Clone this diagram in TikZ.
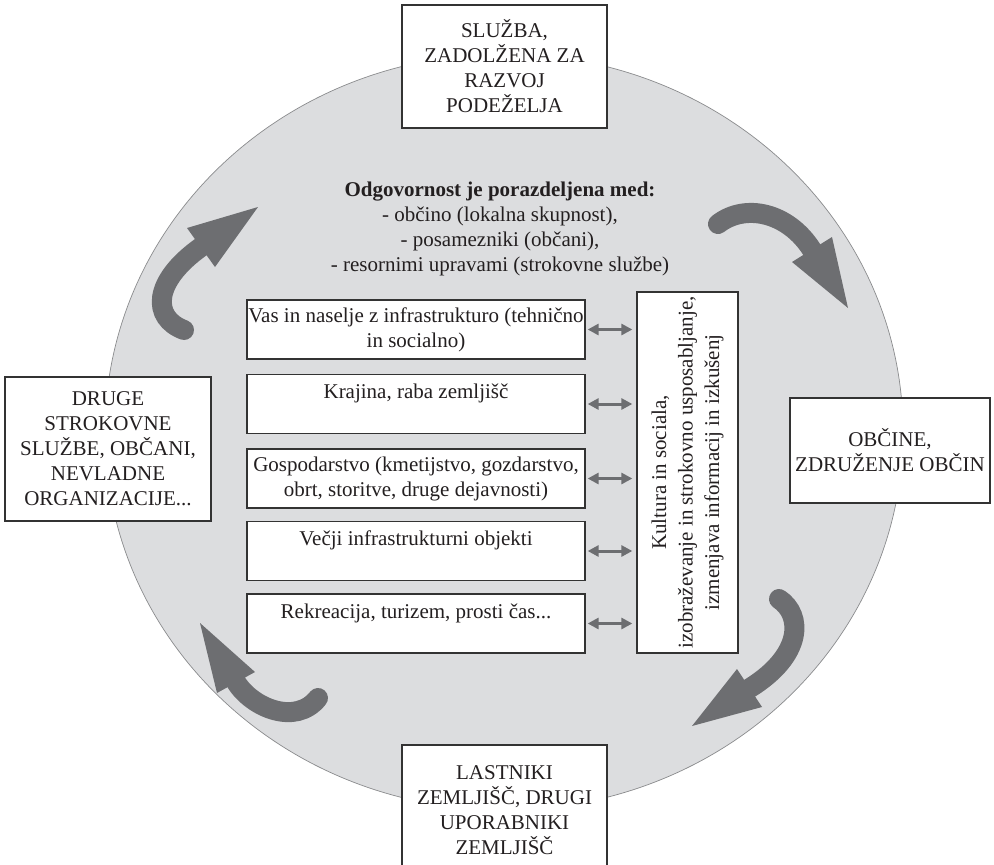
\documentclass[tikz,border=0pt]{standalone}
\usepackage{fontspec}
\setmainfont{Liberation Serif}
\usetikzlibrary{arrows.meta}
\definecolor{circfill}{HTML}{DCDDDF}
\definecolor{circline}{HTML}{8A8B8D}
\definecolor{arrowgray}{HTML}{6D6E71}
\definecolor{boxline}{HTML}{333333}
\definecolor{txt}{HTML}{231F20}
\begin{document}
\begin{tikzpicture}[x=1pt,y=-1pt,
  font=\fontsize{21}{25}\selectfont, text=txt,
  outerbox/.style={draw=boxline, line width=1.3pt, fill=white, align=center, inner sep=2pt},
  innerbox/.style={draw=boxline, line width=1.3pt, fill=white, align=center,
    minimum width=338pt, minimum height=59pt, inner sep=1pt},
  dblarrow/.style={{Triangle[length=11pt,width=11pt]}-{Triangle[length=11pt,width=11pt]},
    draw=arrowgray, line width=3pt, shorten <=2pt, shorten >=4pt},
  shaft/.style={draw=arrowgray, line width=20pt, line cap=round},
  head/.style={fill=arrowgray}]
\useasboundingbox (0,0) rectangle (994,865);
\fill[white] (0,0) rectangle (994,865);
% big disc
\draw[fill=circfill, draw=circline, line width=0.7pt] (504,432) ellipse [x radius=399pt, y radius=378pt];

% outer boxes
\node[outerbox, minimum width=205pt, minimum height=123pt] (top) at (504.5,66.5)
  {SLUŽBA,\\ZADOLŽENA ZA\\RAZVOJ\\PODEŽELJA};
\node[outerbox, minimum width=206pt, minimum height=144pt] (left) at (108,449)
  {DRUGE\\STROKOVNE\\SLUŽBE, OBČANI,\\NEVLADNE\\ORGANIZACIJE...};
\node[outerbox, minimum width=200pt, minimum height=105pt] (right) at (890,450.5)
  {OBČINE,\\ZDRUŽENJE OBČIN};
\node[outerbox, minimum width=205pt, minimum height=130pt] (bottom) at (504.5,810)
  {LASTNIKI\\ZEMLJIŠČ, DRUGI\\UPORABNIKI\\ZEMLJIŠČ};

% header
\node[align=center] (head) at (500,229)
  {\textbf{Odgovornost je porazdeljena med:}\\- občino (lokalna skupnost),\\- posamezniki (občani),\\- resornimi upravami (strokovne službe)};

% inner boxes
\node[innerbox] (b1) at (416,329.5) {Vas in naselje z infrastrukturo (tehnično\\in socialno)};
\node[innerbox] (b2) at (416,404) {Krajina, raba zemljišč\\\mbox{}};
\node[innerbox] (b3) at (416,478.5) {Gospodarstvo (kmetijstvo, gozdarstvo,\\obrt, storitve, druge dejavnosti)};
\node[innerbox] (b4) at (416,551) {Večji infrastrukturni objekti\\\mbox{}};
\node[innerbox] (b5) at (416,623.5) {Rekreacija, turizem, prosti čas...\\\mbox{}};

% vertical box
\node[draw=boxline, line width=1.3pt, fill=white, minimum width=101pt, minimum height=361pt] (kb) at (687.5,472.5) {};
\node[rotate=90, align=center, font=\fontsize{21}{26.5}\selectfont] (kbt) at (kb.center)
  {Kultura in sociala,\\izobraževanje in strokovno usposabljanje,\\izmenjava informacij in izkušenj};

% double arrows
\foreach \b in {b1,b2,b3,b4,b5}
  \draw[dblarrow] (\b.east) -- (\b.east -| kb.west);

% curved arrows
\draw[shaft] (184,330) .. controls (152,318) and (152,282) .. (201,247);
\fill[head] (258,207) -- (187,228) -- (215,267) -- cycle;

\draw[shaft] (718,224) .. controls (745,203) and (788,212) .. (812,250);
\fill[head] (848,308) -- (792,262) -- (832,237) -- cycle;

\draw[shaft] (779,599) .. controls (803,615) and (803,655) .. (750,688);
\fill[head] (692,726) -- (737,669) -- (762,707) -- cycle;

\draw[shaft] (318,698) .. controls (296,726) and (252,708) .. (236,682);
\fill[head] (200,623) -- (255,672) -- (217,693) -- cycle;
\end{tikzpicture}
\end{document}
